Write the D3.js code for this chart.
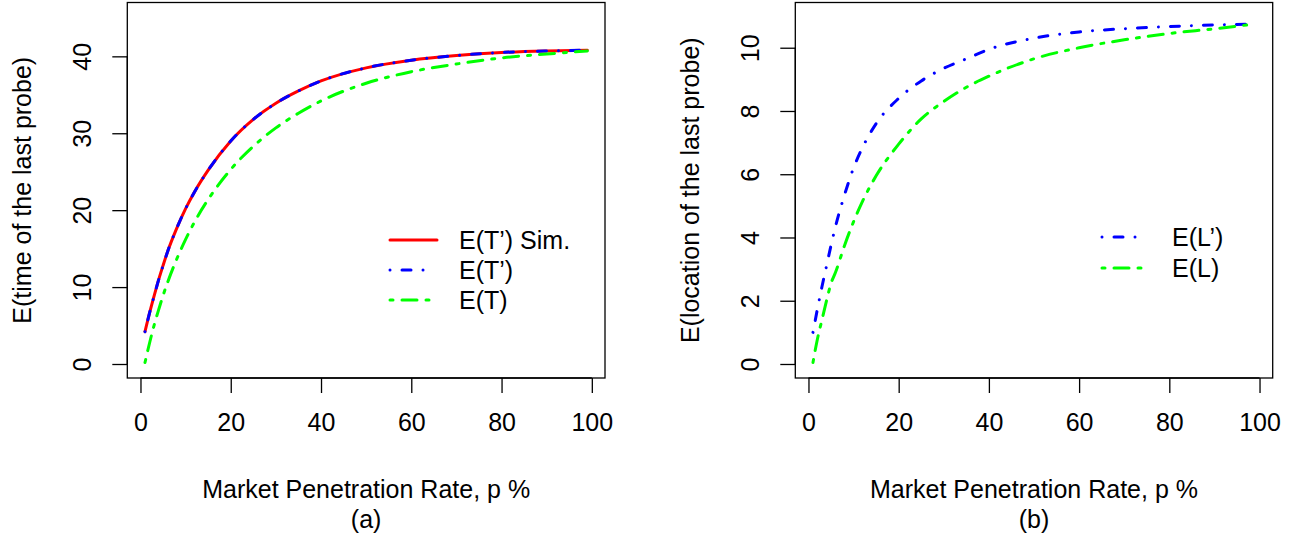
<!DOCTYPE html>
<html><head><meta charset="utf-8">
<script src="https://cdn.jsdelivr.net/npm/d3@7"></script>
<style>body{margin:0;background:#fff}svg{display:block}text{font-family:"Liberation Sans",Arial,sans-serif;fill:#000}</style>
</head><body><svg id="c" width="1294" height="537"></svg>
<script>
const pA = [1,2,3,4,5,6,8,10,12,15,20,25,30,35,40,50,60,70,80,90,99];
const timeSim   = [4.2,6.6,8.8,10.9,12.8,14.6,17.6,20.2,22.4,25.2,29.0,31.8,33.9,35.5,36.8,38.5,39.5,40.1,40.5,40.7,40.8];
const timePrime = [4.2,6.6,8.8,10.9,12.8,14.6,17.6,20.2,22.4,25.2,29.0,31.8,33.9,35.5,36.8,38.5,39.5,40.1,40.5,40.7,40.8];
const timeT     = [0.2,2.7,5.0,7.0,8.9,10.6,13.6,16.2,18.5,21.4,25.3,28.3,30.7,32.6,34.2,36.5,38.0,39.0,39.8,40.3,40.7];
const locPrime  = [1.0,1.75,2.45,3.1,3.75,4.35,5.35,6.2,6.85,7.6,8.4,8.95,9.35,9.65,9.95,10.3,10.5,10.6,10.67,10.72,10.75];
const locL      = [0.05,0.8,1.4,2.0,2.55,2.9,3.75,4.5,5.15,5.95,6.95,7.75,8.3,8.75,9.1,9.65,10.0,10.25,10.45,10.6,10.75];
const xTicks = [0,20,40,60,80,100];
const yTicksA = [0,10,20,30,40];
const yTicksB = [0,2,4,6,8,10];
const xTitle = "Market Penetration Rate, p %";

const svg = d3.select("#c");
const LW = 3;
const FS = "25px";
const styles = {
  solid:   {color:"#FF0000", dash:null},
  dotdash: {color:"#0000FF", dash:[0.01,12,9,12]},
  twodash: {color:"#00FF00", dash:[3,9,15,9]}
};

function panel(o){
  const x = d3.scaleLinear().domain([-2.92,102.92]).range([o.left,o.right]);
  const y = d3.scaleLinear().domain(o.ydom).range([o.bottom,o.top]);
  const g = svg.append("g");
  g.append("rect").attr("x",o.left).attr("y",o.top).attr("width",o.right-o.left).attr("height",o.bottom-o.top)
    .attr("fill","none").attr("stroke","#000").attr("stroke-width",1.3);
  const xa = g.append("g").attr("transform",`translate(0,${o.bottom})`)
    .call(d3.axisBottom(x).tickValues(xTicks).tickSize(15).tickSizeOuter(0).tickPadding(20));
  xa.select(".domain").attr("d",`M${x(0)},0H${x(100)}`).attr("stroke-width",1.3);
  xa.selectAll(".tick line").attr("stroke-width",1.3);
  xa.selectAll("text").style("font-size",FS).attr("font-family",null);
  const ya = g.append("g").attr("transform",`translate(${o.left},0)`)
    .call(d3.axisLeft(y).tickValues(o.yticks).tickSize(15).tickSizeOuter(0));
  ya.select(".domain").attr("d",`M0,${y(o.yticks[0])}V${y(o.yticks[o.yticks.length-1])}`).attr("stroke-width",1.3);
  ya.selectAll(".tick line").attr("stroke-width",1.3);
  ya.selectAll("text").style("font-size",FS).attr("font-family",null)
    .attr("x",null).attr("dy",null).attr("text-anchor","middle").attr("dominant-baseline","central")
    .attr("transform","translate(-45,0) rotate(-90)");
  const cx = (o.left+o.right)/2;
  g.append("text").attr("x",cx).attr("y",498).attr("text-anchor","middle").style("font-size",FS).text(xTitle);
  g.append("text").attr("x",cx).attr("y",528).attr("text-anchor","middle").style("font-size",FS).text(o.sub);
  g.append("text").attr("transform",`translate(${o.left-105},${(o.top+o.bottom)/2}) rotate(-90)`)
    .attr("text-anchor","middle").attr("dominant-baseline","central").style("font-size",FS).text(o.ylab);
  const line = d3.line().x(d=>x(d[0])).y(d=>y(d[1])).curve(d3.curveMonotoneX);
  o.series.forEach(s=>{
    const st = styles[s.style];
    g.append("path").datum(pA.map((p,i)=>[p,s.values[i]])).attr("d",line)
      .attr("fill","none").attr("stroke",st.color).attr("stroke-width",LW)
      .attr("stroke-linecap","round").attr("stroke-linejoin","round")
      .attr("stroke-dasharray",st.dash?st.dash.join(","):null);
  });
  o.series.forEach((s,i)=>{
    const st = styles[s.style];
    const ly = o.legY + i*o.legStep;
    g.append("line").attr("x1",o.legX).attr("x2",o.legX+(s.style==="solid"?47:45)).attr("y1",ly).attr("y2",ly)
      .attr("stroke",st.color).attr("stroke-width",LW).attr("stroke-linecap","round")
      .attr("stroke-dasharray",st.dash?st.dash.join(","):null);
    g.append("text").attr("x",o.legTextX).attr("y",ly).attr("dominant-baseline","central")
      .style("font-size",FS).text(s.name);
  });
}

panel({left:127.3,right:605,top:2.5,bottom:378,ydom:[-1.82,47.0],yticks:yTicksA,
  ylab:"E(time of the last probe)",sub:"(a)",
  legX:390,legTextX:459,legY:240,legStep:30,
  series:[{name:"E(T’) Sim.",values:timeSim,style:"solid"},
          {name:"E(T’)",values:timePrime,style:"dotdash"},
          {name:"E(T)",values:timeT,style:"twodash"}]});
panel({left:795.3,right:1272.7,top:2.5,bottom:378,ydom:[-0.443,11.43],yticks:yTicksB,
  ylab:"E(location of the last probe)",sub:"(b)",
  legX:1102,legTextX:1172,legY:237,legStep:31,
  series:[{name:"E(L’)",values:locPrime,style:"dotdash"},
          {name:"E(L)",values:locL,style:"twodash"}]});
</script></body></html>
